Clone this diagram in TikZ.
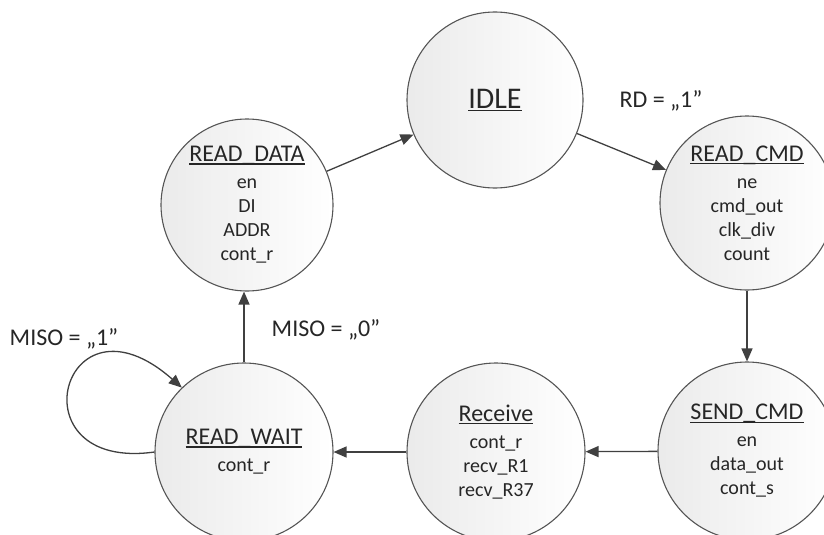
\documentclass[tikz,border=0pt]{standalone}
\usepackage{fontspec}
\setmainfont{Carlito}
\usetikzlibrary{arrows.meta}
\definecolor{edge}{HTML}{404040}
\definecolor{ring}{HTML}{555555}
\definecolor{txt}{HTML}{262626}
\newsavebox\ttlbox
\newcommand\ttl[1]{\sbox\ttlbox{#1}\usebox\ttlbox\llap{\rule[-3pt]{\wd\ttlbox}{1.4pt}}}
\newcommand\tfont{\fontsize{24}{28}\selectfont}
\tikzset{
  statenode/.style={circle, draw=ring, line width=1.1pt, left color=black!8, right color=white,
    inner sep=0pt, align=center, text=txt, font=\fontsize{20}{24}\selectfont},
  conn/.style={draw=edge, line width=1.3pt, -{Triangle[length=13pt,width=11pt]}},
  lbl/.style={text=txt, font=\fontsize{24}{28}\selectfont, inner sep=0pt}
}
\begin{document}
\begin{tikzpicture}[x=1pt,y=-1pt]
\useasboundingbox (0,0) rectangle (824,535);
\node[statenode, minimum size=176pt] (idle) at (495,100) {{\fontsize{30}{34}\selectfont\ttl{IDLE}}};
\node[statenode, minimum size=172pt] (rdata) at (247,205) {{\tfont\ttl{READ\_DATA}}\\[3pt] en\\ DI\\ ADDR\\ cont\_r};
\node[statenode, minimum size=174pt] (rcmd) at (747,203) {{\tfont\ttl{READ\_CMD}}\\[3pt] ne\\ cmd\_out\\ clk\_div\\ count};
\node[statenode, minimum size=178pt] (scmd) at (747,451) {{\tfont\ttl{SEND\_CMD}}\\[3pt] en\\ data\_out\\ cont\_s};
\node[statenode, minimum size=178pt] (recv) at (496,452) {{\tfont\ttl{Receive}}\\[3pt] cont\_r\\ recv\_R1\\ recv\_R37};
\node[statenode, minimum size=178pt] (rwait) at (244,452) {{\tfont\ttl{READ\_WAIT}}\\[3pt] cont\_r};

\draw[conn] (rdata) -- (idle);
\draw[conn] (idle) -- (rcmd);
\draw[conn] (rcmd) -- (scmd);
\draw[conn] (scmd) -- (recv);
\draw[conn] (recv) -- (rwait);
\draw[conn] (rwait.north) -- (rwait.north |- rdata.south);
\draw[conn] (rwait.180) .. controls (12,472) and (62,282) .. (rwait.134);

\node[lbl] (lrd) at (661,101) {RD = „1"};
\node[lbl] (lm0) at (326,330) {MISO = „0"};
\node[lbl] (lm1) at (64,339) {MISO = „1"};
\end{tikzpicture}
\end{document}
